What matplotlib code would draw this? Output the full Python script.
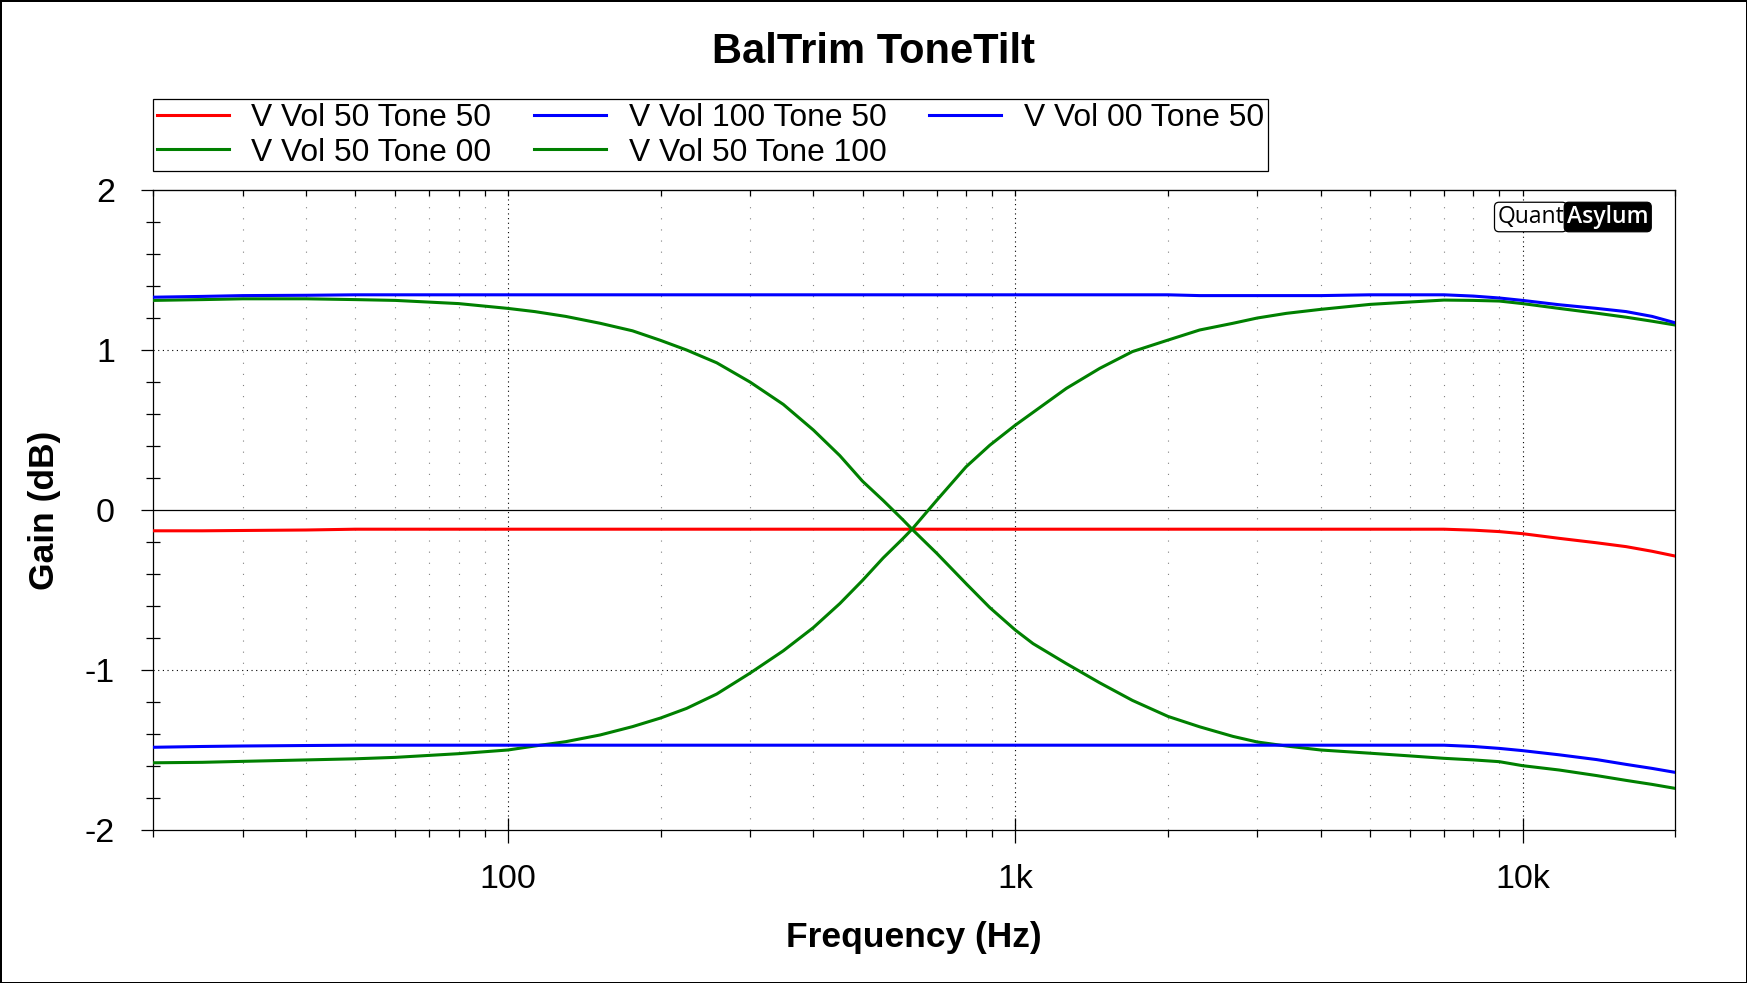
import numpy as np
import matplotlib.pyplot as plt
from matplotlib.ticker import FixedLocator, LogLocator, MultipleLocator, NullFormatter, FixedFormatter

plt.rcParams['font.family'] = ['Liberation Sans', 'DejaVu Sans']
plt.rcParams['axes.unicode_minus'] = False

# frequency points (Hz)
freq = [20, 25, 30, 40, 50, 60, 80, 100, 113, 130, 152, 176, 200, 225, 258, 300, 349,
        400, 451, 500, 549, 600, 626, 700, 800, 891, 1000, 1084, 1261, 1467, 1702, 2000,
        2309, 2686, 3000, 3422, 4000, 5000, 6000, 7000, 8000, 9000, 10000, 11800, 14000,
        16000, 18000, 20000]

# gain in dB for each trace
vol50_tone50 = [-0.13, -0.13, -0.128, -0.125, -0.12, -0.12, -0.12, -0.12, -0.12, -0.12,
                -0.12, -0.12, -0.12, -0.12, -0.12, -0.12, -0.12, -0.12, -0.12, -0.12,
                -0.12, -0.12, -0.12, -0.12, -0.12, -0.12, -0.12, -0.12, -0.12, -0.12,
                -0.12, -0.12, -0.12, -0.12, -0.12, -0.12, -0.12, -0.12, -0.12, -0.12,
                -0.126, -0.135, -0.148, -0.177, -0.205, -0.229, -0.258, -0.288]
vol100_tone50 = [1.33, 1.335, 1.34, 1.342, 1.345, 1.345, 1.345, 1.345, 1.345, 1.345,
                 1.345, 1.345, 1.345, 1.345, 1.345, 1.345, 1.345, 1.345, 1.345, 1.345,
                 1.345, 1.345, 1.345, 1.345, 1.345, 1.345, 1.345, 1.345, 1.345, 1.345,
                 1.345, 1.345, 1.34, 1.34, 1.34, 1.34, 1.34, 1.345, 1.345, 1.345,
                 1.337, 1.325, 1.31, 1.283, 1.26, 1.24, 1.21, 1.17]
vol00_tone50 = [-1.483, -1.478, -1.475, -1.472, -1.47, -1.47, -1.47, -1.47, -1.47, -1.47,
                -1.47, -1.47, -1.47, -1.47, -1.47, -1.47, -1.47, -1.47, -1.47, -1.47,
                -1.47, -1.47, -1.47, -1.47, -1.47, -1.47, -1.47, -1.47, -1.47, -1.47,
                -1.47, -1.47, -1.47, -1.47, -1.47, -1.47, -1.47, -1.47, -1.47, -1.47,
                -1.478, -1.49, -1.504, -1.53, -1.56, -1.59, -1.615, -1.64]
vol50_tone00 = [1.31, 1.315, 1.32, 1.32, 1.315, 1.31, 1.29, 1.26, 1.24, 1.21, 1.167,
                1.12, 1.06, 1.00, 0.92, 0.80, 0.66, 0.50, 0.34, 0.18, 0.06, -0.06, -0.12,
                -0.27, -0.46, -0.61, -0.75, -0.835, -0.96, -1.08, -1.19, -1.29, -1.355,
                -1.415, -1.45, -1.475, -1.50, -1.52, -1.537, -1.552, -1.562, -1.573,
                -1.598, -1.625, -1.66, -1.69, -1.715, -1.74]
vol50_tone100 = [-1.58, -1.577, -1.571, -1.562, -1.555, -1.546, -1.523, -1.50, -1.475,
                 -1.448, -1.406, -1.354, -1.30, -1.24, -1.15, -1.02, -0.88, -0.735, -0.585,
                 -0.44, -0.30, -0.18, -0.12, 0.06, 0.27, 0.405, 0.53, 0.61, 0.76, 0.885,
                 0.99, 1.062, 1.125, 1.167, 1.20, 1.229, 1.254, 1.285, 1.30, 1.312, 1.31,
                 1.306, 1.29, 1.26, 1.23, 1.205, 1.18, 1.156]

labels = ['V Vol 50 Tone 50', 'V Vol 50 Tone 00', 'V Vol 100 Tone 50',
          'V Vol 50 Tone 100', 'V Vol 00 Tone 50']
x_ticks = [100, 1000, 10000]
x_ticklabels = ['100', '1k', '10k']
y_ticks = [-2, -1, 0, 1, 2]

fig = plt.figure(figsize=(17.47, 9.83), dpi=100)
fig.patch.set_edgecolor('black')
fig.patch.set_linewidth(2)
ax = fig.add_axes([0.08775, 0.15565, 0.87121, 0.65106])

lw = 2.2
h_red, = ax.plot(freq, vol50_tone50, color='#ff0000', lw=lw, zorder=3)
h_g0, = ax.plot(freq, vol50_tone00, color='#008000', lw=lw, zorder=3)
h_g1, = ax.plot(freq, vol50_tone100, color='#008000', lw=lw, zorder=3)
h_b1, = ax.plot(freq, vol100_tone50, color='#0000ff', lw=lw, zorder=3)
h_b0, = ax.plot(freq, vol00_tone50, color='#0000ff', lw=lw, zorder=3)

ax.set_xscale('log')
ax.set_xlim(20, 20000)
ax.set_ylim(-2, 2)

for s in ax.spines.values():
    s.set_linewidth(0.9)

# grid: dotted black at decades and +/-1 dB, sparse grey dots at minor decades
for f in x_ticks:
    ax.axvline(f, color='black', lw=0.8, linestyle=(0, (1, 3.2)), zorder=1)
for g in [1, -1]:
    ax.axhline(g, color='black', lw=0.8, linestyle=(0, (1, 3.2)), zorder=1)
minor_f = [m * 10 ** e for e in range(1, 5) for m in range(2, 10) if 20 < m * 10 ** e < 20000]
for f in minor_f:
    ax.axvline(f, color='#808080', lw=0.8, linestyle=(0, (1, 9)), zorder=1)
ax.axhline(0, color='black', lw=0.9, zorder=2)

ax.xaxis.set_major_locator(FixedLocator(x_ticks))
ax.xaxis.set_major_formatter(FixedFormatter(x_ticklabels))
ax.xaxis.set_minor_locator(LogLocator(base=10, subs=np.arange(2, 10)))
ax.xaxis.set_minor_formatter(NullFormatter())
ax.yaxis.set_major_locator(FixedLocator(y_ticks))
ax.yaxis.set_minor_locator(MultipleLocator(0.2))

ax.tick_params(axis='x', which='major', direction='inout', length=18, width=0.9,
               pad=15.5, labelsize=24.5)
ax.tick_params(axis='x', which='minor', direction='out', length=4.8, width=0.9)
ax.tick_params(axis='y', which='major', direction='out', length=8.5, width=0.9,
               pad=19, labelsize=24.5)
ax.tick_params(axis='y', which='minor', direction='inout', length=9.6, width=0.9)

top = ax.secondary_xaxis('top')
top.xaxis.set_major_locator(FixedLocator(x_ticks))
top.xaxis.set_minor_locator(LogLocator(base=10, subs=np.arange(2, 10)))
top.tick_params(which='both', direction='in', length=4.5, width=0.9,
                labeltop=False, labelbottom=False)
top.xaxis.set_minor_formatter(NullFormatter())

ax.set_xlabel('Frequency (Hz)', fontsize=25.5, fontweight='bold')
ax.xaxis.label.set_verticalalignment('center')
ax.xaxis.set_label_coords(0.5, -0.168)
ax.set_ylabel('Gain (dB)', fontsize=25.5, fontweight='bold')
ax.yaxis.label.set_verticalalignment('center')
ax.yaxis.set_label_coords(-0.0715, 0.5)

fig.suptitle('BalTrim ToneTilt', fontsize=30, fontweight='bold', y=0.947, va='center')

leg = fig.legend([h_red, h_g0, h_b1, h_g1, h_b0], labels, ncol=3, loc='upper left',
                 bbox_to_anchor=(153 / 1747, 1 - 99 / 983), fontsize=22.9,
                 frameon=True, fancybox=False, edgecolor='black', framealpha=1,
                 borderpad=0.12, labelspacing=0.15, handlelength=2.26,
                 handletextpad=0.71, columnspacing=1.35, borderaxespad=0)
leg.get_frame().set_linewidth(0.9)
for ln in leg.get_lines():
    ln.set_linewidth(2.2)

# QuantAsylum badge
fig.text(1564 / 1747, 1 - 217 / 983, 'Quant', family='Open Sans', fontsize=16.5,
         ha='right', va='center', color='black',
         bbox=dict(boxstyle='round,pad=0.12,rounding_size=0.2', fc='white', ec='black', lw=0.9))
fig.text(1567 / 1747, 1 - 217 / 983, 'Asylum', family='Open Sans', fontsize=16.5,
         fontweight='semibold', ha='left', va='center', color='white',
         bbox=dict(boxstyle='round,pad=0.12,rounding_size=0.2', fc='black', ec='black', lw=0.9))

fig.savefig('out.png', dpi=100)
